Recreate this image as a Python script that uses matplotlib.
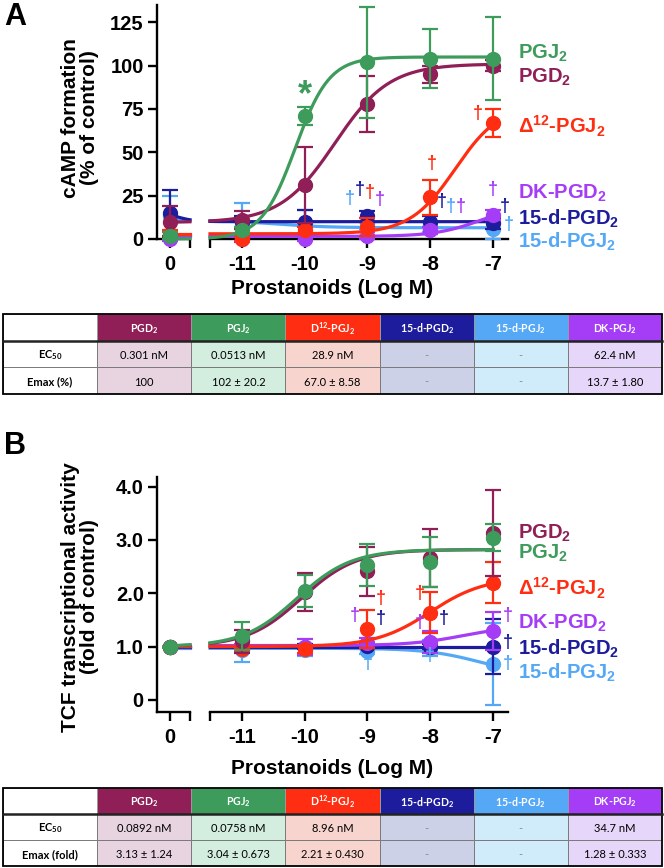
import numpy as np
import matplotlib.pyplot as plt
from matplotlib.patches import Rectangle

plt.rcParams['font.family'] = ['Liberation Sans', 'DejaVu Sans']
plt.rcParams['mathtext.default'] = 'regular'

# compounds, in table order
labels = ['PGD$_2$', 'PGJ$_2$', 'Δ$^{12}$-PGJ$_2$', '15-d-PGD$_2$', '15-d-PGJ$_2$', 'DK-PGD$_2$']
dark = ['#8f1f56', '#3d9b5b', '#ff2d12', '#1c1c9c', '#55a8f6', '#a53cf6']
light = ['#e8d4e0', '#d3eedf', '#f8d4ce', '#cdd1e7', '#d0ebf9', '#e6d6f9']
draw_order = [4, 3, 5, 2, 0, 1]

# x: control, then log M
log_conc = [-11, -10, -9, -8, -7]
ctrl_pos = -12.15

# panel A: cAMP formation (% of control); first value = control
camp_mean = [
    [10, 11, 31, 78, 95, 100],
    [2, 5, 71, 102, 104, 104],
    [3, 0, 5, 7, 24, 67],
    [15, 10, 10, 13, 10, 9],
    [13, 10, 8, 9, 7, 6],
    [0, 0, 0, 2, 5, 14],
]
camp_err = [
    [9, 5, 22, 16, 5, 3],
    [2, 2, 5, 32, 17, 24],
    [2, 2, 2, 5, 10, 8],
    [13, 3, 7, 3, 3, 3],
    [12, 11, 9, 3, 3, 6],
    [1, 1, 1, 2, 2, 3],
]
# fitted curves: bottom, top, logEC50, hill
camp_fit = [
    [9.5, 101, -9.52, 1.0],
    [0, 105, -10.15, 1.6],
    [3, 78, -7.6, 1.2],
    [16, 10, -12.05, 3.0],
    [11, 6.5, -10.5, 1.0],
    [1.5, 20, -7.2, 1.2],
]

# panel B: TCF transcriptional activity (fold of control)
tcf_mean = [
    [1.0, 1.1, 2.02, 2.41, 2.66, 3.13],
    [1.0, 1.2, 2.04, 2.53, 2.59, 3.04],
    [1.0, 0.95, 0.95, 1.33, 1.64, 2.2],
    [1.0, 1.0, 1.0, 1.02, 1.0, 1.0],
    [1.0, 0.93, 0.93, 0.92, 0.97, 0.68],
    [1.0, 1.0, 1.0, 1.07, 1.09, 1.29],
]
tcf_err = [
    [0.0, 0.22, 0.36, 0.46, 0.54, 0.81],
    [0.0, 0.26, 0.3, 0.4, 0.47, 0.25],
    [0.0, 0.05, 0.06, 0.35, 0.38, 0.38],
    [0.0, 0.04, 0.05, 0.05, 0.05, 0.52],
    [0.0, 0.21, 0.1, 0.05, 0.15, 0.77],
    [0.0, 0.05, 0.15, 0.1, 0.2, 0.36],
]
tcf_fit = [
    [1.0, 2.82, -10.05, 1.0],
    [1.0, 2.82, -10.12, 1.0],
    [1.0, 2.3, -8.0, 1.0],
    [1.0, 1.0, -8.0, 1.0],
    [0.97, 0.45, -7.2, 1.0],
    [1.02, 1.4, -7.46, 1.0],
]

# significance marks: (compound, x, y)
camp_daggers = [
    (4, -9.28, 21), (3, -9.12, 26), (2, -8.97, 24), (5, -8.81, 20),
    (2, -7.98, 41), (3, -7.82, 19), (4, -7.67, 16), (5, -7.51, 16),
    (2, -7.25, 70), (5, -7.0, 26), (3, -6.81, 16), (4, -6.75, 6),
]
tcf_daggers = [
    (5, -9.2, 1.5), (2, -8.79, 1.82), (3, -8.79, 1.44), (4, -9.0, 0.6),
    (2, -8.17, 1.91), (5, -8.17, 1.37), (3, -7.79, 1.44), (4, -8.0, 0.75),
    (5, -6.76, 1.5), (3, -6.76, 0.99), (4, -6.76, 0.6),
]
# right-hand legend labels (compound, y baseline)
camp_legend = [(1, 104), (0, 90), (2, 61), (5, 23), (3, 8.5), (4, -5)]
tcf_legend = [(0, 3.03), (1, 2.65), (2, 1.96), (5, 1.34), (3, 0.85), (4, 0.39)]

# tables
head_cells = ['', 'PGD$_2$', 'PGJ$_2$', 'D$^{12}$-PGJ$_2$', '15-d-PGD$_2$', '15-d-PGJ$_2$', 'DK-PGJ$_2$']
camp_ec50 = ['0.301 nM', '0.0513 nM', '28.9 nM', '-', '-', '62.4 nM']
camp_emax = ['100', '102 ± 20.2', '67.0 ± 8.58', '-', '-', '13.7 ± 1.80']
tcf_ec50 = ['0.0892 nM', '0.0758 nM', '8.96 nM', '-', '-', '34.7 nM']
tcf_emax = ['3.13 ± 1.24', '3.04 ± 0.673', '2.21 ± 0.430', '-', '-', '1.28 ± 0.333']


def four_pl(x, bottom, top, logec, hill):
    return bottom + (top - bottom) / (1 + 10 ** ((logec - x) * hill))


W, H = 664, 868
fig = plt.figure(figsize=(6.64, 8.68), dpi=100)


def fr(x0, y_top, w, h):
    return [x0 / W, 1 - (y_top + h) / H, w / W, h / H]


LX = (-12.35, -11.83)
RX = (-11.51, -6.76)


def panel(y_top, y_bot, ylim, yticks, yticklabels, means, errs, fits,
          daggers, legend):
    h = y_bot - y_top
    axl = fig.add_axes(fr(157, y_top, 33, h))
    axr = fig.add_axes(fr(210, y_top, 298, h))
    for ax in (axl, axr):
        ax.set_ylim(*ylim)
        for s in ('top', 'right'):
            ax.spines[s].set_visible(False)
        for s in ('left', 'bottom'):
            ax.spines[s].set_linewidth(1.7)
        ax.tick_params(width=1.7, length=6.5, labelsize=14.5, pad=5)
        ax.patch.set_alpha(0)
    axl.tick_params(axis='y', pad=3)
    axl.set_xlim(*LX)
    axr.set_xlim(*RX)
    axr.spines['left'].set_visible(False)
    axr.set_yticks([])
    axl.set_yticks(yticks)
    axl.set_yticklabels(yticklabels, fontweight='bold')
    axl.set_xticks([ctrl_pos, LX[1]])
    axl.set_xticklabels(['0', ''], fontweight='bold')
    axr.set_xticks([RX[0]] + log_conc)
    axr.set_xticklabels([''] + [str(v) for v in log_conc], fontweight='bold')

    for i in draw_order:
        c = dark[i]
        z = 3 + draw_order.index(i)
        xl = np.linspace(ctrl_pos, LX[1], 40)
        axl.plot(xl, four_pl(xl, *fits[i]), color=c, lw=2.3, zorder=z, clip_on=False)
        xr = np.linspace(RX[0], log_conc[-1], 200)
        axr.plot(xr, four_pl(xr, *fits[i]), color=c, lw=2.3, zorder=z, clip_on=False)
        for ax, xs, ys, es in ((axl, [ctrl_pos], means[i][:1], errs[i][:1]),
                               (axr, log_conc, means[i][1:], errs[i][1:])):
            cont = ax.errorbar(xs, ys, yerr=es, fmt='o', color=c, ms=10,
                               capsize=5.5, elinewidth=1.6, capthick=1.6,
                               zorder=z + 0.5)
            for art in cont.get_children():
                art.set_clip_on(False)
    for i, x, y in daggers:
        axr.text(x, y, '†', color=dark[i], fontsize=13, fontweight='bold',
                 ha='center', va='baseline', zorder=20, clip_on=False)
    for i, y in legend:
        axr.text(-6.60, y, labels[i], color=dark[i], fontsize=14.5,
                 fontweight='bold', ha='left', va='baseline', clip_on=False)
    return axl, axr


axlA, axrA = panel(5, 239, (0, 135), [0, 25, 50, 75, 100, 125],
                   ['0', '25', '50', '75', '100', '125'],
                   camp_mean, camp_err, camp_fit, camp_daggers, camp_legend)
axrA.text(-10, 77, '*', color=dark[1], fontsize=26, fontweight='bold',
          ha='center', va='baseline', zorder=20)

axlB, axrB = panel(477, 712, (-0.225, 4.18), [0, 1, 2, 3, 4],
                   ['0', '1.0', '2.0', '3.0', '4.0'],
                   tcf_mean, tcf_err, tcf_fit, tcf_daggers, tcf_legend)

# panel letters and axis titles
fig.text(15 / W, 1 - 17 / H, 'A', fontsize=22, fontweight='bold', ha='center', va='center')
fig.text(15 / W, 1 - 446 / H, 'B', fontsize=22, fontweight='bold', ha='center', va='center')
fig.text(80 / W, 1 - 118 / H, 'cAMP formation\n(% of control)', rotation=90,
         fontsize=15, fontweight='bold', ha='center', va='center',
         multialignment='center', linespacing=1.05)
fig.text(80 / W, 1 - 597 / H, 'TCF transcriptional activity\n(fold of control)',
         rotation=90, fontsize=15, fontweight='bold', ha='center', va='center',
         multialignment='center', linespacing=1.05)
fig.text(332 / W, 1 - 289 / H, 'Prostanoids (Log M)', fontsize=15,
         fontweight='bold', ha='center', va='center')
fig.text(332 / W, 1 - 769 / H, 'Prostanoids (Log M)', fontsize=15,
         fontweight='bold', ha='center', va='center')


def draw_table(y_top, y_bot, row_names, ec50, emax):
    ax = fig.add_axes(fr(3, y_top, 659, y_bot - y_top))
    ax.set_xlim(0, 7)
    ax.set_ylim(3, 0)
    ax.axis('off')
    for col in range(7):
        # header
        fc = 'white' if col == 0 else dark[col - 1]
        ax.add_patch(Rectangle((col, 0), 1, 1, facecolor=fc, edgecolor='#9a9a9a', lw=0.7))
        ax.text(col + 0.5, 0.55, head_cells[col], color='white', fontsize=7.6,
                fontweight='bold', family=['Lato', 'DejaVu Sans'], ha='center', va='center')
        for r, row in ((1, ec50), (2, emax)):
            fc = 'white' if col == 0 else light[col - 1]
            ax.add_patch(Rectangle((col, r), 1, 1, facecolor=fc, edgecolor='#7a7a7a', lw=0.7))
            if col == 0:
                ax.text(0.5, r + 0.55, row_names[r - 1], fontsize=8, fontweight='bold',
                        family=['Lato', 'DejaVu Sans'], ha='center', va='center')
            else:
                val = row[col - 1]
                ax.text(col + 0.5, r + 0.55, val, fontsize=8,
                        color='#888888' if val == '-' else 'black',
                        family=['Lato', 'DejaVu Sans'], ha='center', va='center')
    ax.add_patch(Rectangle((0, 0), 7, 3, facecolor='none', edgecolor='black', lw=1.3,
                           clip_on=False))
    ax.plot([0, 7], [1, 1], color='#222222', lw=1.8, clip_on=False)


draw_table(314, 394, ['EC$_{50}$', 'Emax (%)'], camp_ec50, camp_emax)
draw_table(788, 866, ['EC$_{50}$', 'Emax (fold)'], tcf_ec50, tcf_emax)

fig.savefig('out.png', dpi=100)
